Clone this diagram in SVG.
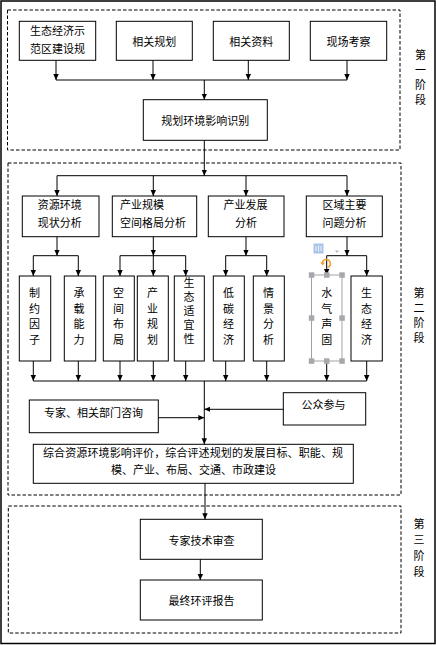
<svg xmlns="http://www.w3.org/2000/svg" width="436" height="645" viewBox="0 0 436 645">
<style>
text{font-family:"Noto Sans CJK SC","Noto Sans",sans-serif;font-size:11px;fill:#000}
.b{fill:#fff;stroke:#000;stroke-width:1}
.d{fill:none;stroke:#000;stroke-width:1;stroke-dasharray:3.5,2}
.c line{stroke:#000;stroke-width:1}
.m{text-anchor:middle}
.h{fill:#a7a7ae}
</style>
<defs>
<marker id="a" markerUnits="userSpaceOnUse" markerWidth="6" markerHeight="6" refX="6" refY="3" orient="auto"><path d="M0,0.3 L6,3 L0,5.7 z" fill="#000"/></marker>
</defs>
<rect x="0" y="0" width="436" height="645" fill="#fff"/>
<rect x="1" y="1" width="434" height="642.5" fill="none" stroke="#000" stroke-width="1.5"/>
<g id="stages">
<rect class="d" x="7.5" y="10" width="392.5" height="140"/>
<rect class="d" x="8" y="163" width="393" height="332"/>
<rect class="d" x="8.3" y="506" width="392.7" height="127"/>
<text x="420.5" y="49.5" writing-mode="tb" letter-spacing="4">第一阶段</text>
<text x="419" y="287.5" writing-mode="tb" letter-spacing="4">第二阶段</text>
<text x="419" y="518.5" writing-mode="tb" letter-spacing="5">第三阶段</text>
</g>
<g id="n1"><rect class="b" x="19.3" y="21.3" width="76.4" height="39"/><text class="m"><tspan x="57.5" y="35">生态经济示</tspan><tspan x="57.5" y="52.5">范区建设规</tspan></text></g>
<g id="n2"><rect class="b" x="116.3" y="21.3" width="76" height="39"/><text class="m" x="154.3" y="45.9">相关规划</text></g>
<g id="n3"><rect class="b" x="213.3" y="21.3" width="76" height="39"/><text class="m" x="251.3" y="45.9">相关资料</text></g>
<g id="n4"><rect class="b" x="310.3" y="21.3" width="76.4" height="39"/><text class="m" x="348.5" y="45.9">现场考察</text></g>
<g id="n5"><rect class="b" x="143.3" y="99.7" width="124" height="40.6"/><text class="m" x="205.3" y="125">规划环境影响识别</text></g>
<g id="b1"><rect class="b" x="22.3" y="196" width="76.7" height="40.7"/><text class="m"><tspan x="59.7" y="209.3">资源环境</tspan><tspan x="59.7" y="226.5">现状分析</tspan></text></g>
<g id="b2"><rect class="b" x="112.3" y="196" width="84.4" height="40.7"/><text><tspan x="120" y="209.3">产业规模</tspan><tspan x="120" y="226.5">空间格局分析</tspan></text></g>
<g id="b3"><rect class="b" x="208.3" y="196" width="75.7" height="40.7"/><text class="m"><tspan x="245.5" y="209.3">产业发展</tspan><tspan x="246" y="226.5">分析</tspan></text></g>
<g id="b4"><rect class="b" x="306.3" y="196" width="76" height="40.7"/><text class="m"><tspan x="344.5" y="209.3">区域主要</tspan><tspan x="344.5" y="226.5">问题分析</tspan></text></g>
<g id="c1"><rect class="b" x="19.3" y="276" width="31.4" height="85"/><text class="m"><tspan x="34.5" y="297">制</tspan><tspan x="34.5" y="312.5">约</tspan><tspan x="34.5" y="328">因</tspan><tspan x="34.5" y="343.5">子</tspan></text></g>
<g id="c2"><rect class="b" x="64.3" y="276" width="31.4" height="85"/><text class="m"><tspan x="79" y="297">承</tspan><tspan x="79" y="312.5">载</tspan><tspan x="79" y="328">能</tspan><tspan x="79" y="343.5">力</tspan></text></g>
<g id="c3"><rect class="b" x="103.3" y="276" width="31" height="85"/><text class="m"><tspan x="118.5" y="297">空</tspan><tspan x="118.5" y="312.5">间</tspan><tspan x="118.5" y="328">布</tspan><tspan x="118.5" y="343.5">局</tspan></text></g>
<g id="c4"><rect class="b" x="137.3" y="276" width="31" height="85"/><text class="m"><tspan x="152.5" y="297">产</tspan><tspan x="152.5" y="312.5">业</tspan><tspan x="152.5" y="328">规</tspan><tspan x="152.5" y="343.5">划</tspan></text></g>
<g id="c5"><rect class="b" x="174.3" y="276" width="30" height="85"/><text x="189" y="277.8" writing-mode="tb" letter-spacing="3">生态适宜性</text></g>
<g id="c6"><rect class="b" x="213.3" y="276" width="31" height="85"/><text class="m"><tspan x="228.5" y="297">低</tspan><tspan x="228.5" y="312.5">碳</tspan><tspan x="228.5" y="328">经</tspan><tspan x="228.5" y="343.5">济</tspan></text></g>
<g id="c7"><rect class="b" x="253.3" y="276" width="31" height="85"/><text class="m"><tspan x="268.5" y="297">情</tspan><tspan x="268.5" y="312.5">景</tspan><tspan x="268.5" y="328">分</tspan><tspan x="268.5" y="343.5">析</tspan></text></g>
<g id="c8"><rect x="311.5" y="275" width="30.5" height="86" fill="#fff" stroke="#8c8c8c" stroke-width="0.8"/><text class="m"><tspan x="326.7" y="297">水</tspan><tspan x="326.7" y="312.5">气</tspan><tspan x="326.7" y="328">声</tspan><tspan x="326.7" y="343.5">固</tspan></text></g>
<g id="c9"><rect class="b" x="351" y="276" width="31.3" height="85"/><text class="m"><tspan x="366.5" y="297">生</tspan><tspan x="366.5" y="312.5">态</tspan><tspan x="366.5" y="328">经</tspan><tspan x="366.5" y="343.5">济</tspan></text></g>
<g id="n6"><rect class="b" x="29.3" y="400" width="129" height="32.7"/><text class="m" x="93.5" y="417">专家、相关部门咨询</text></g>
<g id="n7"><rect class="b" x="283.3" y="392.7" width="82.4" height="32.3"/><text class="m" x="323.5" y="409.2">公众参与</text></g>
<g id="n8"><rect class="b" x="33.3" y="444.3" width="320" height="39"/><text class="m"><tspan x="193" y="457" textLength="300" lengthAdjust="spacing">综合资源环境影响评价，综合评述规划的发展目标、职能、规</tspan><tspan x="193.5" y="474.3">模、产业、布局、交通、市政建设</tspan></text></g>
<g id="n9"><rect class="b" x="140.3" y="519.3" width="122" height="40"/><text class="m" x="201.5" y="545">专家技术审查</text></g>
<g id="n10"><rect class="b" x="140.3" y="580" width="122" height="40"/><text class="m" x="201.5" y="605">最终环评报告</text></g>
<g class="c" id="connectors">
<line x1="56" y1="60.3" x2="56" y2="80" marker-end="url(#a)"/>
<line x1="153" y1="60.3" x2="153" y2="80" marker-end="url(#a)"/>
<line x1="248.3" y1="60.3" x2="248.3" y2="80" marker-end="url(#a)"/>
<line x1="347" y1="60.3" x2="347" y2="80" marker-end="url(#a)"/>
<line x1="56" y1="80" x2="347" y2="80"/>
<line x1="204.3" y1="80" x2="204.3" y2="99.7" marker-end="url(#a)"/>
<line x1="204.3" y1="140.3" x2="204.3" y2="175.7" marker-end="url(#a)"/>
<line x1="57" y1="175.7" x2="347" y2="175.7"/>
<line x1="57" y1="175.7" x2="57" y2="196" marker-end="url(#a)"/>
<line x1="153.3" y1="175.7" x2="153.3" y2="196" marker-end="url(#a)"/>
<line x1="246" y1="175.7" x2="246" y2="196" marker-end="url(#a)"/>
<line x1="347" y1="175.7" x2="347" y2="196" marker-end="url(#a)"/>
<line x1="57" y1="236.7" x2="57" y2="255.7" marker-end="url(#a)"/>
<line x1="153.3" y1="236.7" x2="153.3" y2="255.7" marker-end="url(#a)"/>
<line x1="246" y1="236.7" x2="246" y2="255.7" marker-end="url(#a)"/>
<line x1="347" y1="236.7" x2="347" y2="255.7" marker-end="url(#a)"/>
<line x1="33.3" y1="255.7" x2="78.3" y2="255.7"/>
<line x1="120" y1="255.7" x2="185.7" y2="255.7"/>
<line x1="225.7" y1="255.7" x2="266.7" y2="255.7"/>
<line x1="326.7" y1="255.7" x2="366.7" y2="255.7"/>
<line x1="33.3" y1="255.7" x2="33.3" y2="276" marker-end="url(#a)"/>
<line x1="78.3" y1="255.7" x2="78.3" y2="276" marker-end="url(#a)"/>
<line x1="120" y1="255.7" x2="120" y2="276" marker-end="url(#a)"/>
<line x1="153.3" y1="255.7" x2="153.3" y2="276" marker-end="url(#a)"/>
<line x1="185.7" y1="255.7" x2="185.7" y2="276" marker-end="url(#a)"/>
<line x1="225.7" y1="255.7" x2="225.7" y2="276" marker-end="url(#a)"/>
<line x1="266.7" y1="255.7" x2="266.7" y2="276" marker-end="url(#a)"/>
<line x1="326.7" y1="255.7" x2="326.7" y2="275" marker-end="url(#a)"/>
<line x1="366.7" y1="255.7" x2="366.7" y2="276" marker-end="url(#a)"/>
<line x1="33.3" y1="361" x2="33.3" y2="381" marker-end="url(#a)"/>
<line x1="78.3" y1="361" x2="78.3" y2="381" marker-end="url(#a)"/>
<line x1="120" y1="361" x2="120" y2="381" marker-end="url(#a)"/>
<line x1="153.3" y1="361" x2="153.3" y2="381" marker-end="url(#a)"/>
<line x1="185.7" y1="361" x2="185.7" y2="381" marker-end="url(#a)"/>
<line x1="225.7" y1="361" x2="225.7" y2="381" marker-end="url(#a)"/>
<line x1="266.7" y1="361" x2="266.7" y2="381" marker-end="url(#a)"/>
<line x1="326.7" y1="361" x2="326.7" y2="381" marker-end="url(#a)"/>
<line x1="366.7" y1="361" x2="366.7" y2="381" marker-end="url(#a)"/>
<line x1="33.3" y1="381" x2="366.7" y2="381"/>
<line x1="204.3" y1="381" x2="204.3" y2="444.3" marker-end="url(#a)"/>
<line x1="158.3" y1="417.7" x2="204.3" y2="417.7" marker-end="url(#a)"/>
<line x1="283.3" y1="409.3" x2="204.3" y2="409.3" marker-end="url(#a)"/>
<line x1="205" y1="483.3" x2="205" y2="519.3" marker-end="url(#a)"/>
<line x1="200.3" y1="559.3" x2="200.3" y2="580" marker-end="url(#a)"/>
</g>
<g id="selection">
<rect class="h" x="308.8" y="272.3" width="5.5" height="5.5"/>
<rect class="h" x="324" y="272.3" width="5.5" height="5.5"/>
<rect class="h" x="339.3" y="272.3" width="5.5" height="5.5"/>
<rect class="h" x="308.8" y="315.3" width="5.5" height="5.5"/>
<rect class="h" x="339.3" y="315.3" width="5.5" height="5.5"/>
<rect class="h" x="308.8" y="358.3" width="5.5" height="5.5"/>
<rect class="h" x="324" y="358.3" width="5.5" height="5.5"/>
<rect class="h" x="339.3" y="358.3" width="5.5" height="5.5"/>
<rect x="313.5" y="243.5" width="10" height="10" fill="#a9c4e8"/>
<path d="M316,246 v5 M318.5,245.5 v6 M321,246 v5" stroke="#fff" stroke-width="0.8"/>
<path d="M335,250.5 h4 l-2,2.5 z" fill="#b8b8bc"/>
<path d="M322.3,263.5 A4,4 0 1 1 327.5,267.3" fill="none" stroke="#f0a030" stroke-width="1.6"/>
<path d="M320.5,262 l2,3.5 l2.5,-2.8 z" fill="#f0a030"/>
</g>
</svg>
